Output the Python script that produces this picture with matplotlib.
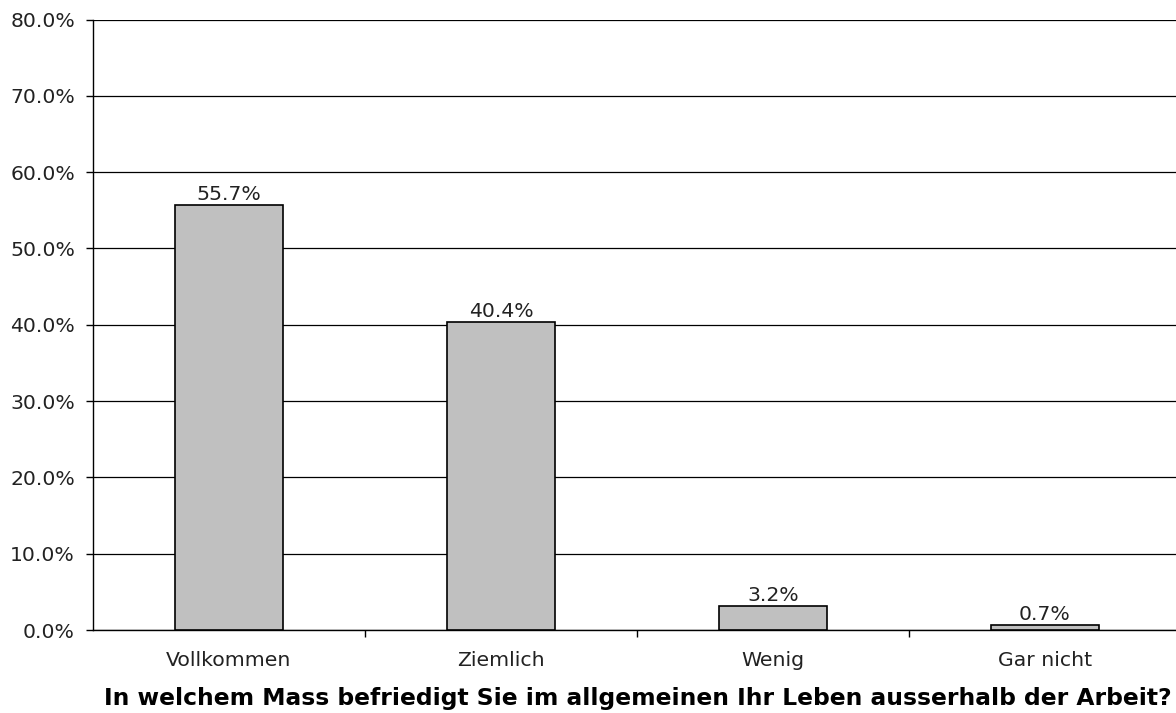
import matplotlib
matplotlib.use("Agg")
import matplotlib.pyplot as plt
from matplotlib.ticker import FuncFormatter

categories = ["Vollkommen", "Ziemlich", "Wenig", "Gar nicht"]
values = [55.7, 40.4, 3.2, 0.7]
y_ticks = [0, 10, 20, 30, 40, 50, 60, 70, 80]
title = "In welchem Mass befriedigt Sie im allgemeinen Ihr Leben ausserhalb der Arbeit?"

W, H = 1176, 713
fig = plt.figure(figsize=(W / 100, H / 100), dpi=100)
left, right = 93, 1181
bottom, top = 630, 19.5
ax = fig.add_axes([left / W, 1 - bottom / H, (right - left) / W, (bottom - top) / H])

FS = 14.7
TXT = "#222222"

xs = list(range(len(categories)))
ax.bar(xs, values, width=0.4, color="#C0C0C0", edgecolor="black", linewidth=1.2, zorder=3)
for x, v in zip(xs, values):
    ax.annotate(f"{v:.1f}%", (x, v), xytext=(0, 3.5), textcoords="offset points",
                ha="center", va="baseline", fontsize=FS, color=TXT)

ax.set_xlim(-0.5, len(categories) - 0.5)
ax.set_ylim(0, 80)
ax.set_yticks(y_ticks)
ax.yaxis.set_major_formatter(FuncFormatter(lambda v, p: f"{v:.1f}%"))
ax.yaxis.grid(True, color="black", linewidth=0.9, zorder=0)
ax.set_axisbelow(True)

# category labels centred on bars, ticks at category boundaries
ax.set_xticks(xs)
ax.set_xticklabels(categories, fontsize=FS, color=TXT)
ax.tick_params(axis="x", which="major", length=0, pad=15)
ax.set_xticks([0.5, 1.5, 2.5], minor=True)
ax.tick_params(axis="x", which="minor", length=5, width=1, color="black", direction="out")
ax.tick_params(axis="y", length=5, width=1, direction="out", labelsize=FS, labelcolor=TXT, pad=8)

for s in ["top", "right"]:
    ax.spines[s].set_visible(False)
ax.spines["left"].set_linewidth(1)
ax.spines["bottom"].set_linewidth(1)

fig.text(637.5 / W, 1 - 705 / H, title, ha="center", va="baseline", fontsize=16.8,
         fontweight="bold", color="black")

fig.savefig("out.png", dpi=100)
